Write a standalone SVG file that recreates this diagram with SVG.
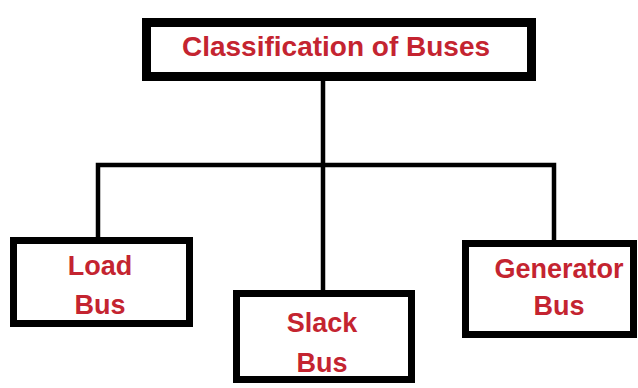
<svg xmlns="http://www.w3.org/2000/svg" width="638" height="388" viewBox="0 0 638 388">
<style>
.box{fill:#fff;stroke:#000}
.lbl{font-family:"Liberation Sans",Arial,sans-serif;font-weight:bold;fill:#c42430;text-anchor:middle}
.conn{stroke:#000;stroke-width:4.5;fill:none;stroke-linecap:square}
</style>
<rect width="638" height="388" fill="#fff"/>
<g id="connectors">
<path class="conn" d="M323 80 V165 M98 165 H554 M98 165 V237 M323 165 V290 M554 165 V240"/>
</g>
<g id="classification">
<rect class="box" x="146.5" y="22.5" width="385" height="54" stroke-width="9"/>
<text class="lbl" x="336" y="56" font-size="28">Classification of Buses</text>
</g>
<g id="load-bus">
<rect class="box" x="13.5" y="240.5" width="176" height="83" stroke-width="7"/>
<text class="lbl" x="100" y="275" font-size="27">Load</text>
<text class="lbl" x="100" y="314" font-size="27">Bus</text>
</g>
<g id="slack-bus">
<rect class="box" x="236.5" y="293.5" width="175" height="86" stroke-width="7"/>
<text class="lbl" x="322" y="332" font-size="27">Slack</text>
<text class="lbl" x="322" y="372" font-size="27">Bus</text>
</g>
<g id="generator-bus">
<rect class="box" x="465.5" y="243.5" width="168" height="91" stroke-width="7"/>
<text class="lbl" x="559" y="278" font-size="27">Generator</text>
<text class="lbl" x="559" y="315" font-size="27">Bus</text>
</g>
</svg>
